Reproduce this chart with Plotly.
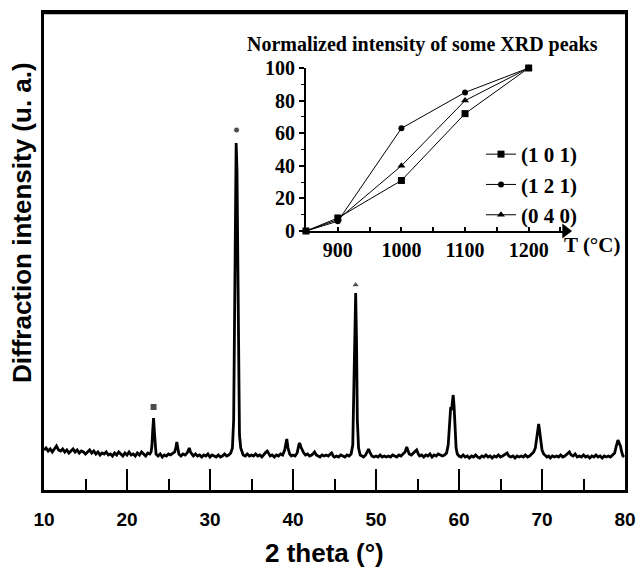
import plotly.graph_objects as go

# ---------------- main XRD pattern ----------------
two_theta = [
    10.0, 10.25, 10.5, 10.75, 11.0, 11.25, 11.5, 11.75, 12.0, 12.25, 12.5, 12.75, 13.0, 13.25, 13.5, 13.75,
    14.0, 14.25, 14.5, 14.75, 15.0, 15.25, 15.5, 15.75, 16.0, 16.25, 16.5, 16.75, 17.0, 17.25, 17.5, 17.75,
    18.0, 18.25, 18.5, 18.75, 19.0, 19.25, 19.5, 19.75, 20.0, 20.25, 20.5, 20.75, 21.0, 21.25, 21.5, 21.75,
    22.0, 22.25, 22.5, 22.75, 22.9, 23.0, 23.1, 23.2, 23.3, 23.4, 23.5, 23.75, 24.0, 24.25, 24.5, 24.75,
    25.0, 25.25, 25.5, 25.75, 25.9, 26.0, 26.1, 26.25, 26.5, 26.75, 27.0, 27.25, 27.4, 27.5, 27.65, 27.9,
    28.0, 28.25, 28.5, 28.75, 29.0, 29.25, 29.5, 29.75, 30.0, 30.25, 30.5, 30.75, 31.0, 31.25, 31.5, 31.75,
    32.0, 32.25, 32.5, 32.7, 32.85, 32.95, 33.05, 33.15, 33.25, 33.35, 33.45, 33.55, 33.7, 33.85, 34.0, 34.25,
    34.5, 34.75, 35.0, 35.25, 35.5, 35.75, 36.0, 36.25, 36.5, 36.75, 36.9, 37.1, 37.25, 37.5, 37.75, 38.0,
    38.25, 38.5, 38.75, 39.0, 39.15, 39.25, 39.4, 39.6, 39.8, 40.0, 40.25, 40.5, 40.7, 40.8, 40.95, 41.1,
    41.3, 41.5, 41.75, 42.0, 42.25, 42.5, 42.6, 42.8, 43.0, 43.25, 43.5, 43.75, 44.0, 44.25, 44.5, 44.65,
    44.85, 45.0, 45.25, 45.5, 45.75, 46.0, 46.25, 46.5, 46.75, 47.0, 47.2, 47.35, 47.45, 47.55, 47.65, 47.75,
    47.9, 48.1, 48.3, 48.5, 48.75, 48.95, 49.1, 49.3, 49.5, 49.75, 50.0, 50.25, 50.5, 50.75, 51.0, 51.25,
    51.5, 51.75, 52.0, 52.25, 52.5, 52.75, 53.0, 53.25, 53.5, 53.7, 53.85, 54.0, 54.25, 54.5, 54.75, 54.9,
    55.1, 55.25, 55.5, 55.75, 56.0, 56.25, 56.5, 56.75, 57.0, 57.25, 57.5, 57.75, 58.0, 58.25, 58.5, 58.7,
    58.85, 59.0, 59.1, 59.2, 59.3, 59.4, 59.5, 59.65, 59.8, 60.0, 60.25, 60.5, 60.75, 61.0, 61.25, 61.5,
    61.75, 62.0, 62.25, 62.5, 62.75, 63.0, 63.25, 63.5, 63.75, 64.0, 64.25, 64.5, 64.75, 65.0, 65.25, 65.5,
    65.8, 66.0, 66.25, 66.5, 66.75, 67.0, 67.25, 67.5, 67.75, 68.0, 68.25, 68.5, 68.75, 69.0, 69.2, 69.35,
    69.5, 69.6, 69.7, 69.85, 70.0, 70.2, 70.4, 70.6, 70.8, 71.0, 71.25, 71.5, 71.75, 72.0, 72.25, 72.5,
    72.75, 73.0, 73.3, 73.5, 73.75, 74.0, 74.25, 74.5, 74.75, 75.0, 75.25, 75.5, 75.75, 76.0, 76.25, 76.5,
    76.75, 77.0, 77.25, 77.5, 77.75, 78.0, 78.25, 78.5, 78.75, 78.95, 79.15, 79.3, 79.45, 79.6, 79.75, 79.9,
]
intensity = [
    40, 42, 39, 41, 38, 41, 44, 40, 39, 41, 38, 40, 37, 39, 41, 38,
    40, 37, 39, 38, 36, 38, 40, 37, 39, 36, 38, 35, 37, 36, 38, 35,
    36, 34, 37, 35, 38, 36, 34, 37, 35, 38, 35, 36, 34, 37, 35, 38,
    36, 34, 37, 36, 38, 44, 60, 72, 58, 42, 36, 34, 36, 33, 35, 34,
    36, 35, 37, 38, 43, 48, 43, 36, 34, 36, 35, 37, 40, 42, 38, 35,
    34, 36, 34, 35, 33, 35, 34, 36, 33, 35, 34, 33, 35, 33, 34, 36,
    34, 35, 37, 42, 70, 150, 280, 347, 320, 200, 100, 55, 42, 37, 35, 34,
    36, 34, 35, 34, 36, 34, 35, 33, 36, 38, 39, 36, 34, 35, 33, 35,
    34, 36, 35, 40, 49, 51, 42, 36, 34, 35, 34, 37, 45, 47, 43, 40,
    37, 35, 36, 34, 35, 37, 38, 35, 34, 33, 35, 34, 35, 34, 36, 37,
    34, 33, 34, 33, 35, 34, 33, 35, 34, 36, 45, 110, 185, 197, 150, 70,
    42, 35, 34, 33, 35, 39, 41, 37, 34, 33, 34, 33, 35, 33, 34, 33,
    34, 33, 35, 34, 33, 35, 34, 36, 38, 43, 39, 36, 35, 37, 39, 40,
    36, 34, 35, 33, 35, 34, 36, 33, 35, 34, 36, 35, 34, 35, 37, 45,
    70, 83, 80, 90, 95, 85, 60, 42, 36, 34, 33, 35, 33, 34, 32, 34,
    33, 35, 33, 32, 34, 33, 35, 33, 34, 32, 34, 33, 35, 33, 34, 35,
    37, 34, 33, 34, 32, 34, 33, 34, 33, 35, 33, 34, 36, 38, 42, 50,
    62, 66, 60, 48, 40, 36, 34, 33, 34, 32, 34, 33, 34, 33, 35, 33,
    34, 36, 38, 35, 34, 36, 33, 34, 33, 35, 33, 34, 32, 34, 33, 35,
    33, 34, 32, 34, 33, 34, 33, 35, 37, 44, 50, 47, 44, 38, 34, 33,
]

# peak identification symbols above peaks
peak_marker_x = [23.2, 33.2, 47.55]
peak_marker_y = [83, 360, 205]
peak_marker_symbols = ["square", "circle", "triangle-up"]

x_ticks = [10, 20, 30, 40, 50, 60, 70, 80]

# ---------------- inset: normalized intensities ----------------
temperature = [850, 900, 1000, 1100, 1200]
norm_101 = [0, 8, 31, 72, 100]
norm_121 = [0, 6, 63, 85, 100]
norm_040 = [0, 7, 40, 80, 100]
inset_series = [("(1 0 1)", norm_101, "square", 7),
                ("(1 2 1)", norm_121, "circle", 6),
                ("(0 4 0)", norm_040, "triangle-up", 7)]
inset_xticks = [900, 1000, 1100, 1200]
inset_yticks = [0, 20, 40, 60, 80, 100]

# ---------------- layout helpers (pixel -> paper) ----------------
W, H = 638, 569
L, R, T, B = 44, 13, 13, 79
PW, PH = W - L - R, H - T - B


def px(x):
    return (x - L) / PW


def py(y):
    return (H - B - y) / PH


SANS = "Liberation Sans, Arial, sans-serif"
SERIF = "Liberation Serif, Times New Roman, serif"

fig = go.Figure()

fig.add_trace(go.Scatter(x=two_theta, y=intensity, mode="lines",
                         line=dict(color="black", width=2.8),
                         showlegend=False, xaxis="x", yaxis="y"))
fig.add_trace(go.Scatter(x=peak_marker_x, y=peak_marker_y, mode="markers",
                         marker=dict(symbol=peak_marker_symbols, size=[7, 6, 7], color="black"),
                         showlegend=False, xaxis="x", yaxis="y", cliponaxis=False))

for name, vals, sym, sz in inset_series:
    fig.add_trace(go.Scatter(x=temperature, y=vals, mode="lines+markers", name=name,
                             line=dict(color="black", width=1),
                             marker=dict(symbol=sym, size=sz, color="black"),
                             xaxis="x2", yaxis="y2", cliponaxis=False))

# arrow head on inset T axis
fig.add_trace(go.Scatter(x=[1258], y=[0], mode="markers",
                         marker=dict(symbol="triangle-right", size=13, color="black"),
                         showlegend=False, xaxis="x2", yaxis="y2", cliponaxis=False))

fig.update_layout(
    template="none",
    width=W, height=H, autosize=False,
    margin=dict(l=L, r=R, t=T, b=B, pad=0, autoexpand=False),
    paper_bgcolor="white", plot_bgcolor="white",
    xaxis=dict(range=[10, 80], domain=[0, 1], tickvals=x_ticks, automargin=False,
               showline=True, linecolor="black", linewidth=2.5, mirror=True,
               ticks="inside", ticklen=21, tickwidth=2, tickcolor="black",
               minor=dict(dtick=5, tick0=5, ticks="inside", ticklen=11, tickwidth=2, tickcolor="black"),
               showgrid=False, zeroline=False,
               tickfont=dict(family=SANS, size=19, color="black", weight="bold"),
               ticklabelstandoff=10),
    yaxis=dict(range=[0, 477], domain=[0, 1], showline=True, linecolor="black", linewidth=2.5,
               automargin=False, mirror=True, ticks="", showticklabels=False,
               showgrid=False, zeroline=False),
    xaxis2=dict(range=[850, 1265], domain=[px(306), px(570)], anchor="y2", automargin=False,
                tickvals=inset_xticks, showline=True, linecolor="black", linewidth=2,
                ticks="inside", ticklen=4, tickwidth=1.5, tickcolor="black",
                minor=dict(dtick=50, tick0=850, ticks="inside", ticklen=4, tickwidth=1.5, tickcolor="black"),
                showgrid=False, zeroline=False,
                tickfont=dict(family=SERIF, size=20, color="black", weight="bold")),
    yaxis2=dict(range=[0, 100], domain=[py(231), py(68)], anchor="x2", automargin=False,
                tickvals=inset_yticks, showline=True, linecolor="black", linewidth=2,
                ticks="outside", ticklen=5, tickwidth=1.5, tickcolor="black",
                minor=dict(dtick=10, ticks="outside", ticklen=3, tickwidth=1, tickcolor="black"),
                showgrid=False, zeroline=False,
                tickfont=dict(family=SERIF, size=20, color="black", weight="bold")),
    legend=dict(x=px(481), y=py(134), xanchor="left", yanchor="top",
                bgcolor="rgba(0,0,0,0)", borderwidth=0, tracegroupgap=0,
                font=dict(family=SERIF, size=21, color="black", weight="bold")),
    showlegend=True,
)

# top frame edge (explicit, matching the boxed reference)
fig.add_shape(type="line", xref="paper", yref="paper", x0=0, x1=1, y0=1, y1=1,
              line=dict(color="black", width=2.5), layer="above")

fig.add_annotation(text="2 theta (°)", x=px(324), y=py(553), xref="paper", yref="paper",
                   showarrow=False, xanchor="center", yanchor="middle",
                   font=dict(family=SANS, size=26, color="black", weight="bold"))
fig.add_annotation(text="Diffraction intensity (u. a.)", x=px(22), y=py(223), xref="paper", yref="paper",
                   showarrow=False, xanchor="center", yanchor="middle", textangle=-90,
                   font=dict(family=SANS, size=26, color="black", weight="bold"))
fig.add_annotation(text="Normalized intensity of some XRD peaks", x=px(422), y=py(45),
                   xref="paper", yref="paper", showarrow=False, xanchor="center", yanchor="middle",
                   font=dict(family=SERIF, size=20, color="black", weight="bold"))
fig.add_annotation(text="T (°C)", x=px(592), y=py(245), xref="paper", yref="paper",
                   showarrow=False, xanchor="center", yanchor="middle",
                   font=dict(family=SERIF, size=21, color="black", weight="bold"))

fig.write_html("out.html", config={"displayModeBar": False},
               post_script="document.body.style.margin='0';document.body.style.padding='0';"
                           "document.body.style.overflow='hidden';"
                           "document.documentElement.style.overflow='hidden';")
